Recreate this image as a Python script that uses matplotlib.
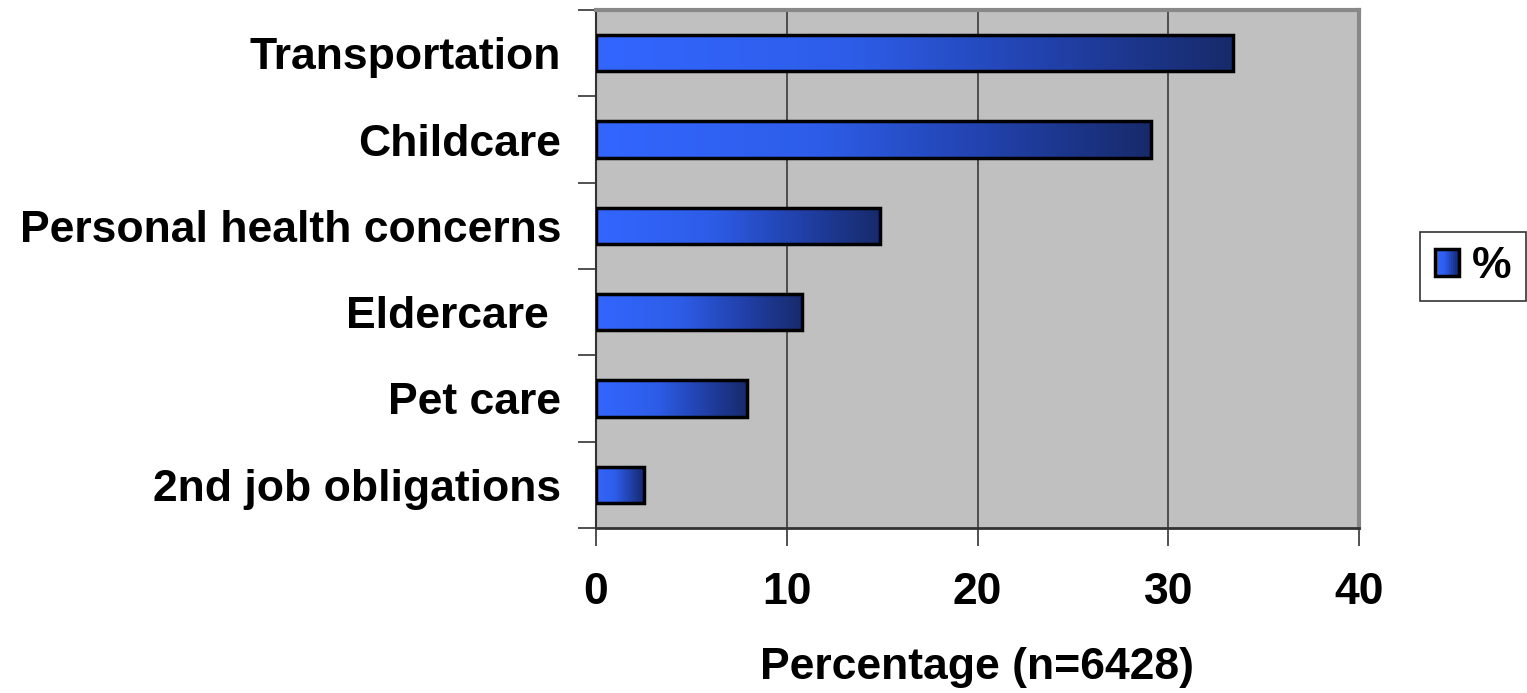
import numpy as np
import matplotlib
matplotlib.use("Agg")
import matplotlib.pyplot as plt
from matplotlib.colors import LinearSegmentedColormap
from matplotlib.patches import Rectangle
from matplotlib.legend_handler import HandlerBase

categories = ["2nd job obligations", "Pet care", "Eldercare ",
              "Personal health concerns", "Childcare", "Transportation"]
values = [2.5, 7.9, 10.8, 14.9, 29.1, 33.4]
x_ticks = [0, 10, 20, 30, 40]
x_label = "Percentage (n=6428)"
legend_label = "%"

plt.rcParams["font.family"] = ["Liberation Sans", "DejaVu Sans"]
plt.rcParams["font.weight"] = "bold"
FS = 32

fig = plt.figure(figsize=(15.27, 6.93), dpi=100)
ax = fig.add_axes([596 / 1527, 1 - 528 / 693, (1359 - 596) / 1527, (528 - 10) / 693])

ax.set_facecolor("#c0c0c0")

cmap = LinearSegmentedColormap.from_list(
    "bar", [(0.0, "#3366ff"), (0.4, "#2d5de8"), (0.7, "#2242ad"), (1.0, "#172a6a")])
grad = np.linspace(0, 1, 256).reshape(1, -1)
bar_h = 0.42

for i, v in enumerate(values):
    y0 = i - bar_h / 2
    im = ax.imshow(grad, cmap=cmap, aspect="auto", extent=(0, v, y0, y0 + bar_h),
                   zorder=3, interpolation="bicubic")
    rect = Rectangle((0, y0), v, bar_h, facecolor="none", edgecolor="black",
                     linewidth=2.5, zorder=4)
    ax.add_patch(rect)
    im.set_clip_path(rect)

ax.set_xlim(0, 40)
ax.set_ylim(-0.5, len(categories) - 0.5)

ax.set_xticks(x_ticks)
ax.set_xticklabels([str(t) for t in x_ticks], fontsize=FS, fontweight="bold")
ax.xaxis.grid(True, color="#3a3a3a", linewidth=1.2, zorder=1)
ax.set_axisbelow(True)

ax.set_yticks(np.arange(len(categories)))
ax.set_yticklabels(categories, fontsize=FS, fontweight="bold")
ax.tick_params(axis="y", length=0, pad=25)
ax.set_yticks(np.arange(len(categories) + 1) - 0.5, minor=True)
ax.tick_params(axis="y", which="minor", length=13, width=1.2, color="#333333")
ax.tick_params(axis="x", length=13, width=1.2, color="#333333", pad=19)

for s in ["top", "right"]:
    ax.spines[s].set_color("#888888")
    ax.spines[s].set_linewidth(3)
ax.spines["left"].set_color("#333333")
ax.spines["bottom"].set_color("#333333")
ax.spines["left"].set_linewidth(1.5)
ax.spines["bottom"].set_linewidth(2)

ax.set_xlabel(x_label, fontsize=FS, fontweight="bold", labelpad=24)


class GradientHandler(HandlerBase):
    def create_artists(self, legend, orig_handle, xdescent, ydescent, width,
                       height, fontsize, trans):
        artists = []
        n = 12
        for k in range(n):
            artists.append(Rectangle((xdescent + width * k / n, -ydescent), width / n + 0.3,
                                     height, facecolor=cmap(k / (n - 1)),
                                     edgecolor="none", transform=trans))
        artists.append(Rectangle((xdescent, -ydescent), width, height, facecolor="none",
                                 edgecolor="black", linewidth=2.5, transform=trans))
        return artists


handle = Rectangle((0, 0), 1, 1)
leg = fig.legend([handle], [legend_label], loc="upper right",
                 bbox_to_anchor=(1526 / 1527, 1 - 232 / 693), fontsize=FS,
                 frameon=True, fancybox=False, edgecolor="black",
                 handlelength=0.55, handleheight=0.55, handletextpad=0.3,
                 borderpad=0.32, borderaxespad=0,
                 handler_map={Rectangle: GradientHandler()})
leg.get_frame().set_linewidth(1.2)

fig.savefig("out.png", dpi=100)
